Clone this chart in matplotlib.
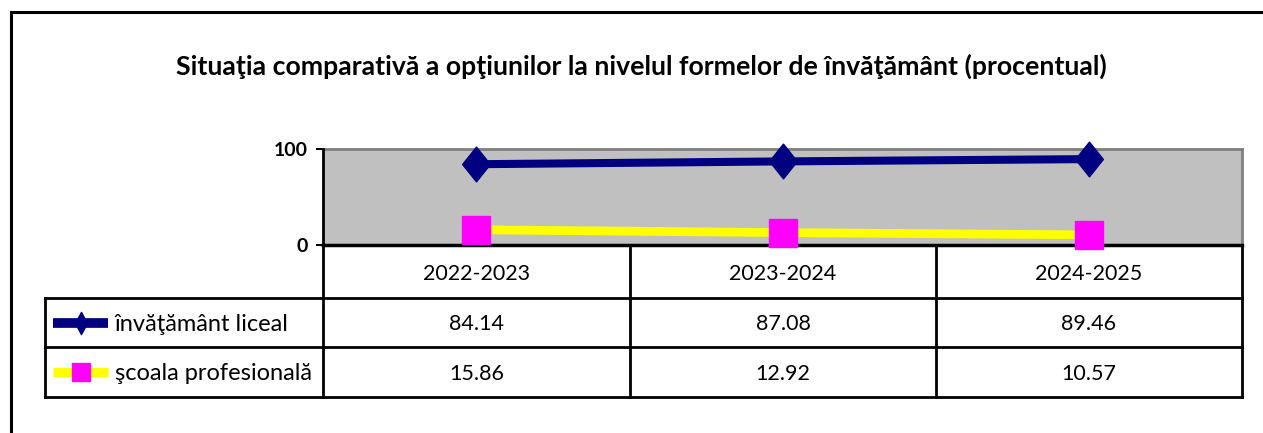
import numpy as np
import matplotlib.pyplot as plt
from matplotlib.lines import Line2D
from matplotlib.path import Path

# date
ani = ['2022-2023', '2023-2024', '2024-2025']
liceal = [84.14, 87.08, 89.46]
profesionala = [15.86, 12.92, 10.57]
serii = ['învăţământ liceal', 'şcoala profesională']
titlu = 'Situaţia comparativă a opţiunilor la nivelul formelor de învăţământ (procentual)'

W, H = 1263, 433
font = 'Lato'
navy = '#000080'
yellow = '#FFFF00'
magenta = '#FF00FF'

# romb putin mai ingust decat inalt
romb = Path([(0, 0.5), (0.4, 0), (0, -0.5), (-0.4, 0), (0, 0.5)],
            [Path.MOVETO, Path.LINETO, Path.LINETO, Path.LINETO, Path.CLOSEPOLY])
romb_mic = Path([(0, 0.5), (0.27, 0), (0, -0.5), (-0.27, 0), (0, 0.5)],
                [Path.MOVETO, Path.LINETO, Path.LINETO, Path.LINETO, Path.CLOSEPOLY])

fig = plt.figure(figsize=(W / 100, H / 100), dpi=100)

# fundal: axa in pixeli pentru chenar si tabel
bg = fig.add_axes([0, 0, 1, 1])
bg.set_xlim(0, W)
bg.set_ylim(H, 0)
bg.axis('off')

def px(x0, y0, x1, y1):
    return [x0 / W, 1 - y1 / H, (x1 - x0) / W, (y1 - y0) / H]

# chenar exterior (doar stanga si sus se vad)
bg.plot([11, 11, W + 5], [H + 5, 12, 12], color='black', lw=2.2, solid_joinstyle='miter')

bg.text(641, 66, titlu, ha='center', va='center', fontsize=19.2,
        fontweight='bold', family=font)

# zona graficului
x0, x1, ytop, ybot = 323, 1242, 149, 245
ax = fig.add_axes(px(x0, ytop, x1, ybot))
ax.set_facecolor('#C0C0C0')
x = np.arange(len(ani))
ax.plot(x, liceal, color=navy, lw=5.8, marker=romb, ms=25, mfc=navy, mec=navy,
        solid_capstyle='butt', clip_on=False, zorder=3)
ax.plot(x, profesionala, color=yellow, lw=6.3, marker='s', ms=20, mfc=magenta,
        mec=magenta, solid_capstyle='butt', clip_on=False, zorder=3)
ax.set_xlim(-0.5, len(ani) - 0.5)
ax.set_ylim(0, 100)
ax.set_yticks([0, 100])
ax.set_yticklabels(['0', '100'], fontsize=14, fontweight='bold', family=font)
ax.set_xticks([])
ax.tick_params(axis='y', length=5, width=1.5, pad=6)
for s in ['top', 'right']:
    ax.spines[s].set_color('#808080')
    ax.spines[s].set_linewidth(2)
ax.spines['left'].set_linewidth(2)
ax.spines['bottom'].set_linewidth(2.5)
ax.spines['left'].set_zorder(5)

# tabelul de date
rows = [245, 298, 347, 397]
cols = [323, 630, 936, 1242]
lw = 2
for y in rows[1:]:
    bg.plot([45, 1242], [y, y], color='black', lw=lw)
bg.plot([45, 45], [298, 397], color='black', lw=lw)
for c in cols:
    bg.plot([c, c], [245, 397], color='black', lw=lw)

fs = 15.5
for i, a in enumerate(ani):
    xc = (cols[i] + cols[i + 1]) / 2
    bg.text(xc, (rows[0] + rows[1]) / 2 + 2, a, ha='center', va='center',
            fontsize=fs, family=font)
    bg.text(xc, (rows[1] + rows[2]) / 2 + 2, f'{liceal[i]:.2f}', ha='center',
            va='center', fontsize=fs, family=font)
    bg.text(xc, (rows[2] + rows[3]) / 2 + 2, f'{profesionala[i]:.2f}',
            ha='center', va='center', fontsize=fs, family=font)

# cheile legendei
stiluri = [dict(color=navy, lw=7, marker=romb_mic, ms=16, mfc=navy, mec=navy),
           dict(color=yellow, lw=6.5, marker='s', ms=13.5, mfc=magenta, mec=magenta)]
for k, (nume, st) in enumerate(zip(serii, stiluri)):
    yc = (rows[k + 1] + rows[k + 2]) / 2
    bg.add_line(Line2D([53, 108], [yc, yc], color=st['color'], lw=st['lw'],
                       solid_capstyle='butt'))
    bg.plot([80.5], [yc], linestyle='none', marker=st['marker'], ms=st['ms'],
            mfc=st['mfc'], mec=st['mec'])
    bg.text(115, yc + 2, nume, ha='left', va='center', fontsize=17, family=font)

fig.savefig('out.png', dpi=100)
